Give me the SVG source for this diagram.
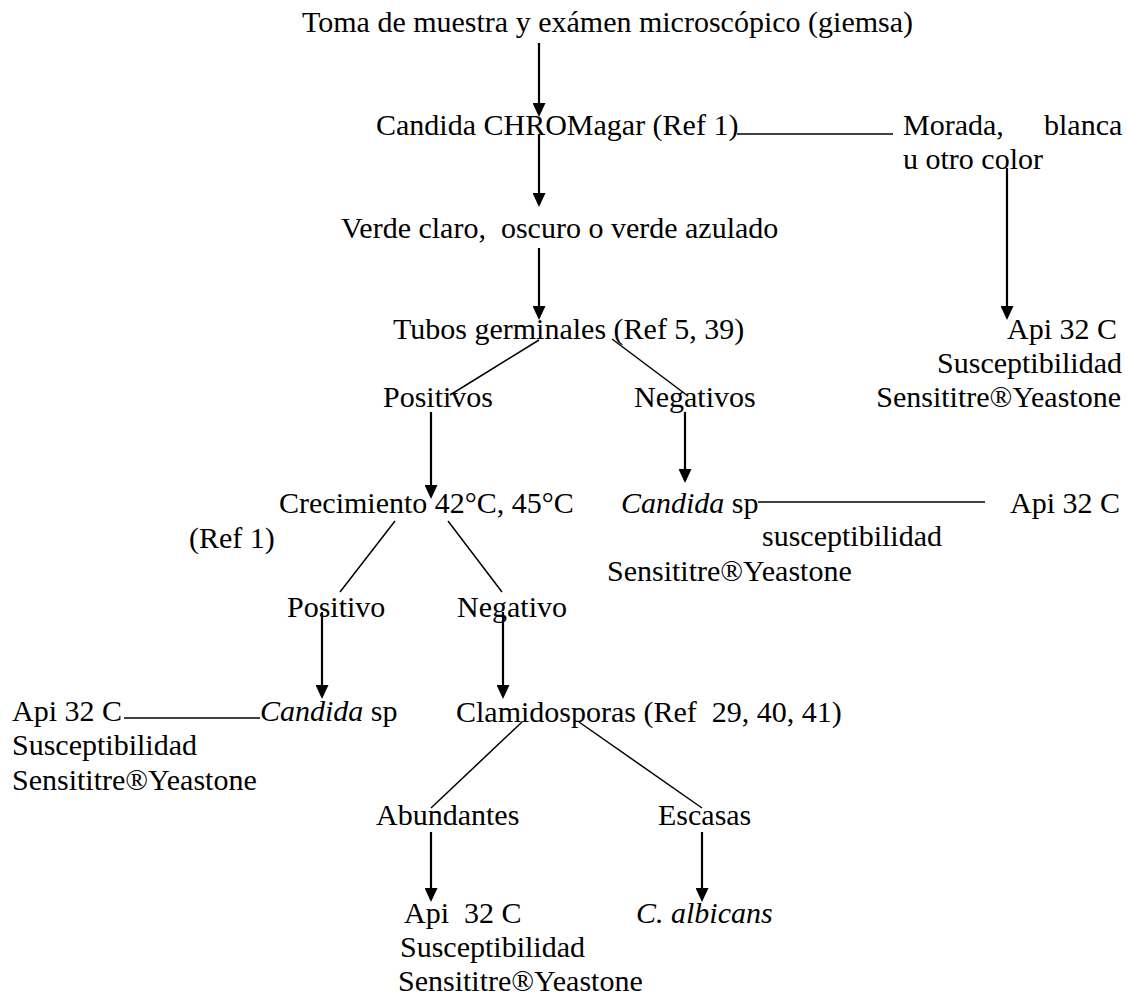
<svg xmlns="http://www.w3.org/2000/svg" width="1128" height="998" viewBox="0 0 1128 998">
<style>
text { font-family: "Liberation Serif", "Times New Roman", serif; font-size: 30px; fill: #000; }
.it { font-style: italic; }
.arrow { stroke: #000; stroke-width: 2.2; fill: none; marker-end: url(#ah); }
.link { stroke: #000; stroke-width: 1.5; fill: none; }
</style>
<defs>
<marker id="ah" viewBox="0 0 14 13" refX="11" refY="6.5" markerWidth="14" markerHeight="13" markerUnits="userSpaceOnUse" orient="auto"><path d="M0,0 L14,6.5 L0,13 z" fill="#000"/></marker>
</defs>
<rect width="1128" height="998" fill="#fff"/>
<g id="connectors">
<line class="arrow" x1="539" y1="43" x2="539" y2="114"/>
<line class="arrow" x1="539" y1="134" x2="539" y2="204"/>
<line class="arrow" x1="539" y1="248" x2="539" y2="317"/>
<line class="arrow" x1="1007" y1="168" x2="1007" y2="317"/>
<line class="arrow" x1="431" y1="412" x2="431" y2="496"/>
<line class="arrow" x1="685" y1="412" x2="685" y2="480"/>
<line class="arrow" x1="322" y1="612" x2="322" y2="696"/>
<line class="arrow" x1="503" y1="612" x2="503" y2="696"/>
<line class="arrow" x1="431" y1="832" x2="431" y2="899"/>
<line class="arrow" x1="702" y1="832" x2="702" y2="899"/>
<line class="link" x1="737" y1="134" x2="893" y2="134"/>
<line class="link" x1="758" y1="502" x2="985" y2="502"/>
<line class="link" x1="124" y1="718" x2="260" y2="718"/>
<line class="link" x1="539" y1="340" x2="450" y2="395"/>
<line class="link" x1="612" y1="339" x2="688" y2="396"/>
<line class="link" x1="395" y1="521" x2="340" y2="592"/>
<line class="link" x1="448" y1="521" x2="502" y2="592"/>
<line class="link" x1="522" y1="722" x2="431" y2="808"/>
<line class="link" x1="579" y1="722" x2="702" y2="808"/>
</g>
<g id="n-toma"><text x="302" y="32">Toma de muestra y exámen microscópico (giemsa)</text></g>
<g id="n-chromagar"><text x="376" y="135">Candida CHROMagar (Ref 1)</text></g>
<g id="n-morada"><text x="903" y="135">Morada,<tspan x="1044">blanca</tspan></text><text x="903" y="169">u otro color</text></g>
<g id="n-verde"><text x="341" y="238" xml:space="preserve">Verde claro,  oscuro o verde azulado</text></g>
<g id="n-api-top"><text x="1007" y="339">Api 32 C</text><text x="1122" y="373" text-anchor="end">Susceptibilidad</text><text x="1121" y="407" text-anchor="end">Sensititre®Yeastone</text></g>
<g id="n-tubos"><text x="393" y="339">Tubos germinales (Ref 5, 39)</text></g>
<g id="n-positivos"><text x="383" y="407">Positivos</text></g>
<g id="n-negativos"><text x="634" y="407">Negativos</text></g>
<g id="n-crecimiento"><text x="279" y="513">Crecimiento 42°C, 45°C</text><text x="189" y="548">(Ref 1)</text></g>
<g id="n-candida-sp-1"><text x="621" y="513"><tspan class="it">Candida</tspan> sp</text></g>
<g id="n-api-mid"><text x="1010" y="513">Api 32 C</text><text x="762" y="546">susceptibilidad</text><text x="607" y="581">Sensititre®Yeastone</text></g>
<g id="n-positivo"><text x="287" y="617">Positivo</text></g>
<g id="n-negativo"><text x="457" y="617">Negativo</text></g>
<g id="n-api-left"><text x="12" y="721">Api 32 C</text><text x="12" y="755">Susceptibilidad</text><text x="12" y="790">Sensititre®Yeastone</text></g>
<g id="n-candida-sp-2"><text x="260" y="721"><tspan class="it">Candida</tspan> sp</text></g>
<g id="n-clamidosporas"><text x="456" y="722" xml:space="preserve">Clamidosporas (Ref  29, 40, 41)</text></g>
<g id="n-abundantes"><text x="376" y="825">Abundantes</text></g>
<g id="n-escasas"><text x="658" y="825">Escasas</text></g>
<g id="n-api-bottom"><text x="404" y="923" xml:space="preserve">Api  32 C</text><text x="400" y="957">Susceptibilidad</text><text x="398" y="991">Sensititre®Yeastone</text></g>
<g id="n-albicans"><text x="636" y="923" class="it">C. albicans</text></g>
</svg>
